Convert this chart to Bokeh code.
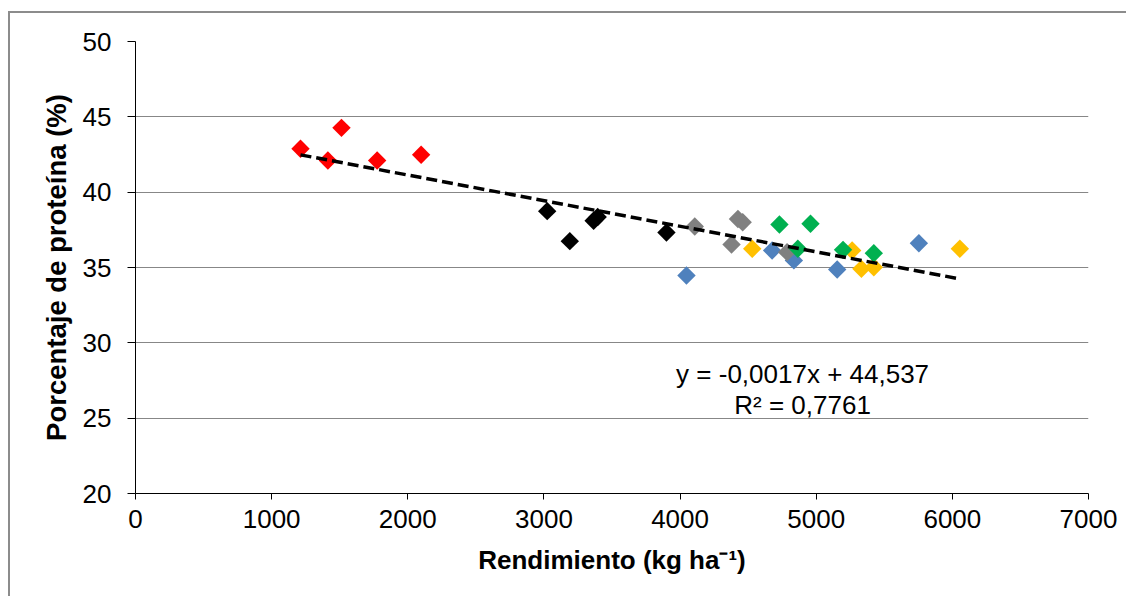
import numpy as np
from bokeh.plotting import figure
from bokeh.models import Range1d, Label, FixedTicker
from bokeh.embed import file_html
from bokeh.resources import INLINE

# ---- data ----
red_x = [1212, 1413, 1513, 1775, 2098]
red_y = [42.88, 42.10, 44.27, 42.10, 42.48]

black_x = [3024, 3190, 3365, 3395, 3900]
black_y = [38.74, 36.75, 38.10, 38.35, 37.32]

blue_x = [4047, 4676, 4836, 5154, 5754]
blue_y = [34.47, 36.13, 35.47, 34.87, 36.61]

gray_x = [4108, 4378, 4425, 4460, 4786]
gray_y = [37.72, 36.53, 38.22, 38.00, 36.02]

yellow_x = [4530, 5264, 5332, 5423, 6055]
yellow_y = [36.24, 36.13, 34.91, 35.02, 36.24]

green_x = [4730, 4958, 4865, 5197, 5423]
green_y = [37.85, 37.90, 36.24, 36.17, 35.95]

series = [
    (red_x, red_y, "#FF0000"),
    (black_x, black_y, "#000000"),
    (blue_x, blue_y, "#4F81BD"),
    (gray_x, gray_y, "#808080"),
    (yellow_x, yellow_y, "#FFC000"),
    (green_x, green_y, "#00B050"),
]

slope = -0.0017
intercept = 44.537
eq_text = "y = -0,0017x + 44,537"
r2_text = "R² = 0,7761"

x_ticks = [0, 1000, 2000, 3000, 4000, 5000, 6000, 7000]
y_ticks = [20, 25, 30, 35, 40, 45, 50]

FONT = "Liberation Sans"

p = figure(width=1118, height=585, output_backend="svg", toolbar_location=None,
           x_range=Range1d(0, 7000), y_range=Range1d(20, 50),
           min_border_left=125, min_border_right=40, min_border_top=28, min_border_bottom=105)

# outer chart frame (left and top edges visible; the rest runs off the picture)
p.styles = {"border-left": "2px solid #8c8c8c", "border-top": "2px solid #8c8c8c",
            "margin-left": "8px", "margin-top": "11px"}

p.outline_line_color = None
p.background_fill_color = "white"
p.border_fill_color = "white"
p.xgrid.grid_line_color = None
p.ygrid.grid_line_color = "#878787"
p.ygrid.grid_line_width = 1.2

p.xaxis.ticker = FixedTicker(ticks=x_ticks)
p.yaxis.ticker = FixedTicker(ticks=y_ticks)
for ax in (p.xaxis, p.yaxis):
    ax.axis_line_color = "black"
    ax.axis_line_width = 1
    ax.major_tick_line_color = "black"
    ax.major_tick_in = 0
    ax.minor_tick_line_color = None
    ax.major_label_text_font = FONT
    ax.major_label_text_font_size = "26px"
    ax.major_label_text_color = "black"
    ax.axis_label_text_font = FONT
    ax.axis_label_text_font_style = "bold"
    ax.axis_label_text_color = "black"

p.xaxis.axis_label_text_font_size = "26px"
p.yaxis.axis_label_text_font_size = "27.5px"
p.xaxis.major_tick_out = 6
p.yaxis.major_tick_out = 8
p.xaxis.major_label_standoff = 10
p.yaxis.major_label_standoff = 16
p.xaxis.axis_label = "Rendimiento (kg ha⁻¹)"
p.yaxis.axis_label = "Porcentaje de proteína (%)"
p.xaxis.axis_label_standoff = 14
p.yaxis.axis_label_standoff = 8

# trend line over the range of the data
all_x = np.concatenate([np.array(s[0], dtype=float) for s in series])
tx = np.array([all_x.min(), all_x.max()])
ty = slope * tx + intercept

for xs, ys, col in series:
    p.scatter(xs, ys, marker="square", angle=np.pi / 4, size=13,
              fill_color=col, line_color=None)

p.line(tx, ty, line_color="black", line_width=3.5, line_dash="11 5")

p.add_layout(Label(x=4900, y=27.9, text=eq_text, text_align="center",
                   text_baseline="alphabetic", text_font=FONT,
                   text_font_size="26px", text_color="black"))
p.add_layout(Label(x=4900, y=25.9, text=r2_text, text_align="center",
                   text_baseline="alphabetic", text_font=FONT,
                   text_font_size="26px", text_color="black"))

open("out.html", "w").write(file_html(p, INLINE))
